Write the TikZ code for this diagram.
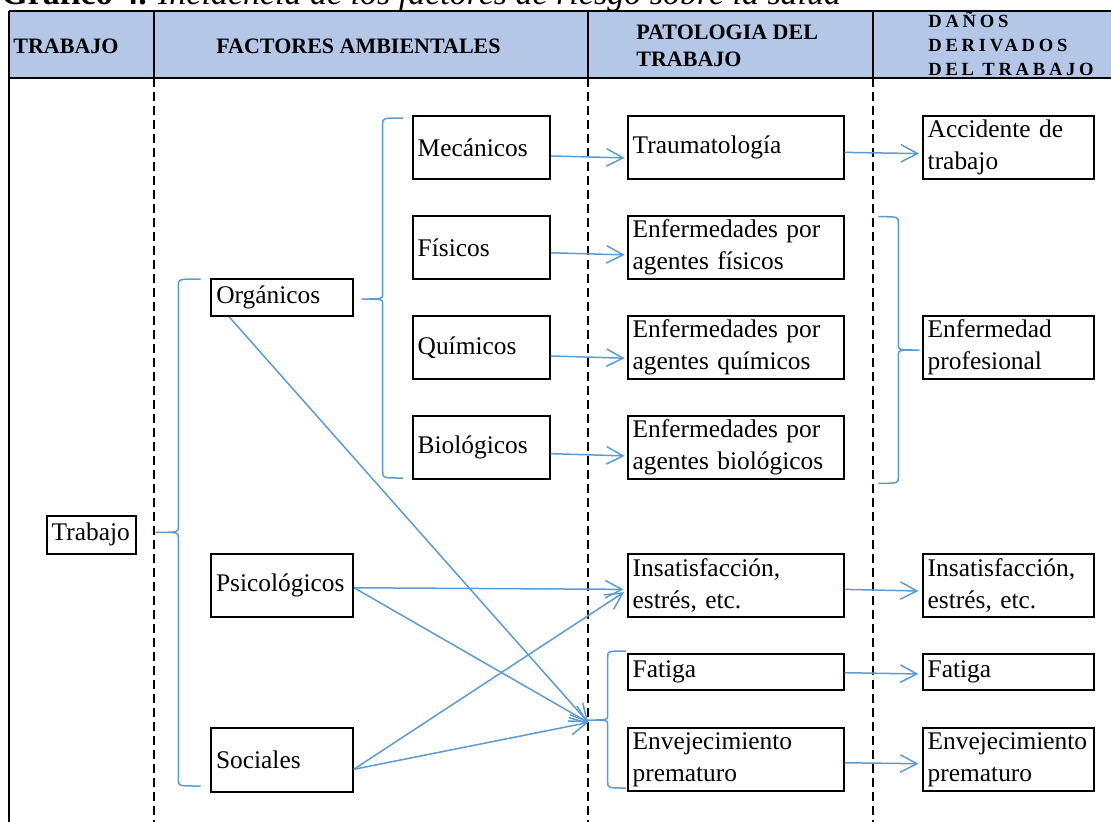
\documentclass[tikz,border=0pt]{standalone}
\usepackage{fontspec}
\setmainfont{Liberation Serif}
\newfontfamily\spacedserif{Liberation Serif}[LetterSpace=20]
\usetikzlibrary{arrows.meta}

\definecolor{hdrblue}{RGB}{180,199,231}
\definecolor{lnblue}{RGB}{91,155,213}

\tikzset{
  factorbox/.style={draw, line width=1pt, anchor=north west, inner xsep=2.5pt,
    inner ysep=0pt, align=left, font=\fontsize{12.7}{16}\selectfont},
  hdrtext/.style={inner sep=0pt, align=left, font=\fontsize{11}{13.5}\selectfont\bfseries},
  frame/.style={line width=1pt, black},
  colsep/.style={line width=1pt, black, dash pattern=on 4.5pt off 2.5pt},
  link/.style={lnblue, line width=0.75pt, -{Straight Barb[length=8.3pt,width=8.7pt]}, shorten >=1pt},
  brace/.style={lnblue, line width=0.75pt, line join=round},
}

% box with its corners given in picture units
\newcommand\factorbox[6]{%
  \pgfmathsetmacro\bxw{(#4-#2)*0.5}%
  \pgfmathsetmacro\bxh{(#5-#3)*0.5}%
  \pgfmathsetmacro\bxt{(#4-#2)*0.5-5}%
  \node[factorbox, minimum width=\bxw pt, minimum height=\bxh pt, text width=\bxt pt] (#1) at (#2,#3) {#6};}

% curly bracket: hook x, spine x, tip x, top y, tip y, bottom y
\newcommand\bracepath[6]{%
  \draw[brace] (#1,#4) .. controls (#2,#4) .. (#2,#4+6) -- (#2,#5-5)
    .. controls (#2,#5) .. (#3,#5) .. controls (#2,#5) .. (#2,#5+5)
    -- (#2,#6-6) .. controls (#2,#6) .. (#1,#6);}

\begin{document}
\begin{tikzpicture}[x=0.5pt, y=-0.5pt]
\useasboundingbox (0,0) rectangle (1111,821);
\clip (0,0) rectangle (1111,821);

% caption
\node[anchor=base west, inner sep=0pt, font=\fontsize{17}{20}\selectfont] (caption) at (1,4)
  {\textbf{Gráfico 4.} \textit{Incidencia de los factores de riesgo sobre la salud}};

% header band
\fill[hdrblue] (9,11) rectangle (1120,78);
\draw[frame] (9,11) -- (1120,11) (9,78) -- (1120,78) (9,11) -- (9,830);
\foreach \cx in {153.7,587.7,873.3} {
  \draw[frame] (\cx,11) -- (\cx,78);
  \draw[colsep] (\cx,78) -- (\cx,830);
}

\node[hdrtext, anchor=west] (h1) at (13,46) {TRABAJO};
\node[hdrtext, anchor=west] (h2) at (216,46) {FACTORES AMBIENTALES};
\node[hdrtext, anchor=west] (h3) at (636,46) {PATOLOGIA DEL\\TRABAJO};
\node[inner sep=0pt, align=left, anchor=west, font=\fontsize{9.3}{12}\spacedserif\bfseries] (h4)
  at (928,43.5) {DAÑOS\\DERIVADOS\\DEL TRABAJO};

% column 1
\factorbox{trab}{45.7}{515}{135}{552.7}{Trabajo}
% column 2
\factorbox{org}{210.3}{277.7}{352}{315}{Orgánicos}
\factorbox{psi}{210}{552.7}{352}{616}{Psicológicos}
\factorbox{soc}{210}{727.3}{351.7}{790.7}{Sociales}
\factorbox{mec}{411.7}{115}{549}{177.7}{Mecánicos}
\factorbox{fis}{411.7}{215}{549}{277.7}{Físicos}
\factorbox{qui}{411.7}{315}{548.7}{378.3}{Químicos}
\factorbox{bio}{411.7}{415}{548.7}{478.3}{Biológicos}
% column 3
\factorbox{trau}{626.7}{115}{842.7}{177.7}{Traumatología}
\factorbox{efis}{626.7}{215}{842.7}{277.7}{Enfermedades por\\agentes físicos}
\factorbox{equi}{626.7}{315}{842.7}{378.3}{Enfermedades por\\agentes químicos}
\factorbox{ebio}{626.7}{415}{842.7}{478.3}{Enfermedades por\\agentes biológicos}
\factorbox{ins}{626.7}{553}{842.7}{615.7}{Insatisfacción,\\estrés, etc.}
\factorbox{fat}{626.7}{652.7}{842.7}{689.3}{Fatiga}
\factorbox{env}{626.7}{726.7}{842.7}{790}{Envejecimiento\\prematuro}
% column 4
\factorbox{acc}{921.7}{115}{1093.3}{177.7}{Accidente de\\trabajo}
\factorbox{epro}{921.7}{315}{1093.3}{378.3}{Enfermedad\\profesional}
\factorbox{ins2}{921.7}{553}{1093.3}{615.7}{Insatisfacción,\\estrés, etc.}
\factorbox{fat2}{921.7}{652.7}{1093.3}{689.3}{Fatiga}
\factorbox{env2}{921.7}{726.7}{1093.3}{790}{Envejecimiento\\prematuro}

% brackets grouping the boxes
\bracepath{403}{382.7}{362}{118}{299}{478}
\bracepath{200.7}{178.3}{156}{279}{532.3}{786}
\bracepath{626}{607.7}{588.3}{651}{720}{788}
\bracepath{878.3}{898.3}{919}{216.7}{350}{483.3}

% point where the general factors meet the fatigue / ageing bracket
\coordinate (conv) at (588.3,722.5);

% connectors
\draw[link] ([yshift=-4.3pt]mec.east) -- ([yshift=-5.3pt]trau.west);
\draw[link] ([yshift=-2.7pt]fis.east) -- ([yshift=-3.8pt]efis.west);
\draw[link] ([yshift=-4.15pt]qui.east) -- ([yshift=-5.3pt]equi.west);
\draw[link] ([yshift=-3pt]bio.east) -- ([yshift=-4.15pt]ebio.west);
\draw[link, shorten >=1.3pt] ([yshift=-2.5pt]trau.east) -- ([yshift=-3.15pt]acc.west);
\draw[link, shorten >=1.6pt] ([yshift=-2pt]ins.east) -- ([yshift=-2.85pt]ins2.west);
\draw[link, shorten >=1.6pt] ([yshift=-0.35pt]fat.east) -- ([yshift=-1pt]fat2.west);
\draw[link, shorten >=1.6pt] ([yshift=-1.7pt]env.east) -- ([yshift=-2.2pt]env2.west);
\draw[link, shorten >=1.6pt] ([yshift=-1.2pt]psi.east) -- ([yshift=-2pt]ins.west);
\draw[link, shorten >=0pt] ([yshift=-1.2pt]psi.east) -- (conv);
\draw[link, shorten >=0pt] ([xshift=-26.45pt]org.south) -- (conv);
\draw[link, shorten >=1.6pt] ([yshift=-4.65pt]soc.east) -- ([yshift=-2.5pt]ins.west);
\draw[link, shorten >=0pt] ([yshift=-4.65pt]soc.east) -- (conv);
\end{tikzpicture}
\end{document}
